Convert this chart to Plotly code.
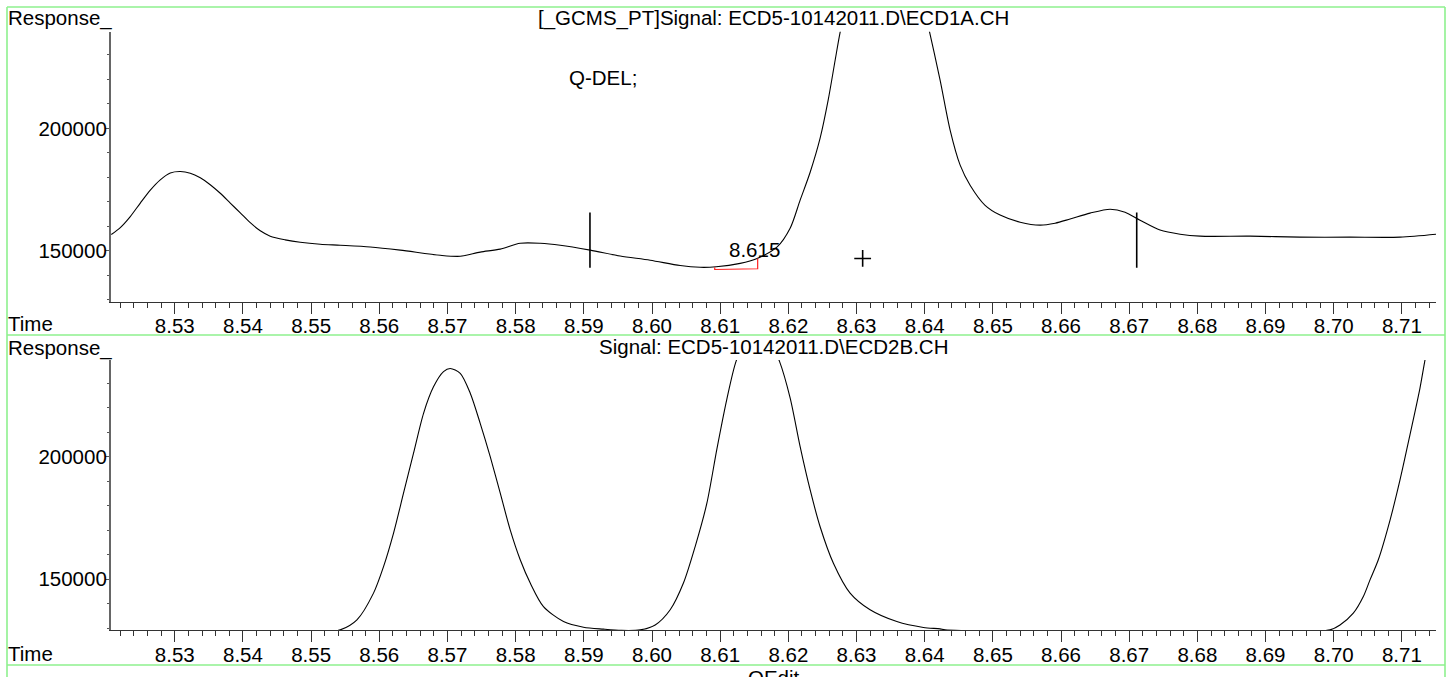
import plotly.graph_objects as go

# ---------------- data ----------------
top_time = [8.52069, 8.52201, 8.52347, 8.52494, 8.52641, 8.52787, 8.52934, 8.53081, 8.53227, 8.53374,
            8.53520, 8.53667, 8.53814, 8.53961, 8.54107, 8.54254, 8.54400, 8.54620, 8.54840, 8.55134,
            8.55427, 8.55867, 8.56307, 8.56894, 8.57187, 8.57480, 8.57774, 8.58067, 8.58360,
            8.58654, 8.59093, 8.59533, 8.59973, 8.60413, 8.60707, 8.60941, 8.61293, 8.61542, 8.61836,
            8.62026, 8.62173, 8.62320, 8.62466, 8.62584, 8.62687, 8.62760, 8.63000, 8.63300, 8.63600,
            8.63850, 8.64050, 8.64226, 8.64373, 8.64520, 8.64666, 8.64886, 8.65106, 8.65400, 8.65693,
            8.65913, 8.66133, 8.66426, 8.66720, 8.66939, 8.67159, 8.67452, 8.67746, 8.68039, 8.68772,
            8.69505, 8.70239, 8.70972, 8.71500]
top_resp = [156700, 159500, 164000, 169500, 174800, 179000, 181800, 182400, 181700, 179800,
            177000, 173500, 169500, 165500, 161500, 158200, 156000, 154500, 153500, 152700,
            152300, 151600, 150300, 148200, 147800, 149500, 150700, 153100, 153100,
            152300, 150300, 147900, 146200, 144000, 143300, 143500, 144900, 146900, 151600,
            159200, 170700, 182100, 196000, 211500, 227900, 239300, 270000, 290000, 285000,
            265000, 242000, 219700, 199300, 185000, 176800, 168600, 164600, 161700, 160500,
            161300, 163000, 165400, 167000, 165800, 162500, 158500, 156800, 156000, 156000,
            155600, 155600, 155600, 156800]

bot_time = [8.52069, 8.54000, 8.55200, 8.55427, 8.55672, 8.55915, 8.56062, 8.56209, 8.56355, 8.56502,
            8.56649, 8.56795, 8.56942, 8.57040, 8.57187, 8.57334, 8.57480, 8.57627, 8.57774, 8.57920,
            8.58067, 8.58214, 8.58408, 8.58702, 8.58995, 8.59288, 8.59550, 8.59826, 8.60047, 8.60267,
            8.60461, 8.60633, 8.60805, 8.60951, 8.61098, 8.61234, 8.61400, 8.61550, 8.61700, 8.61869,
            8.62026, 8.62173, 8.62320, 8.62466, 8.62661, 8.62906, 8.63199, 8.63591, 8.63981, 8.64226,
            8.64299, 8.65500, 8.67500, 8.69000, 8.69945, 8.70092, 8.70287, 8.70434, 8.70532, 8.70654,
            8.70825, 8.70972, 8.71118, 8.71265, 8.71339, 8.71500]
bot_resp = [128000, 128100, 128400, 129300, 133400, 144300, 155100, 168800, 185100, 201400,
            217700, 228500, 234700, 236000, 234000, 225900, 213600, 200000, 185100, 170100,
            157900, 148400, 138800, 132700, 130400, 129600, 129100, 129300, 131300, 137500,
            148400, 163300, 181000, 203000, 223500, 239000, 249000, 252000, 249000, 239000,
            224000, 204100, 186400, 171400, 156500, 144300, 137500, 132700, 130300, 129700,
            129300, 128600, 128300, 128400, 129300, 131300, 136100, 142900, 149700, 157900,
            174000, 190500, 208900, 228000, 239500, 262000]

marker_time = [8.5909, 8.6711]
marker_low = [143100, 143100]
marker_high = [165700, 165700]

peak_label = "8.615"
peak_label_time = 8.6150
peak_label_resp = 150600

bracket_time = [8.6092, 8.6092, 8.6155, 8.6155]
bracket_resp = [143300, 142400, 142700, 146900]

cross_time = [8.6309]
cross_resp = [146900]

x_ticks = [8.53, 8.54, 8.55, 8.56, 8.57, 8.58, 8.59, 8.60, 8.61, 8.62,
           8.63, 8.64, 8.65, 8.66, 8.67, 8.68, 8.69, 8.70, 8.71]
x_ticklabels = ["%.2f" % v for v in x_ticks]
y_ticks = [150000, 200000]
y_ticklabels = ["150000", "200000"]

title_top = "[_GCMS_PT]Signal: ECD5-10142011.D\\ECD1A.CH"
title_bot = "Signal: ECD5-10142011.D\\ECD2B.CH"
compound = "Q-DEL;"

# ---------------- figure ----------------
W, H = 1452, 677
FONT = "Liberation Sans, Arial, sans-serif"
FS = 20.5


def py(px):
    return 1 - px / H


def pxx(px):
    return px / W


x_range = [8.5206, 8.7150]
y_range = [129250, 239450]

fig = go.Figure()

line_style = dict(color="black", width=1.1, shape="spline", smoothing=0.8)
fig.add_trace(go.Scatter(x=top_time, y=top_resp, mode="lines", line=line_style,
                         xaxis="x", yaxis="y", showlegend=False, hoverinfo="skip"))
fig.add_trace(go.Scatter(x=bot_time, y=bot_resp, mode="lines", line=line_style,
                         xaxis="x2", yaxis="y2", showlegend=False, hoverinfo="skip"))

# baseline marker ticks
mx, my = [], []
for t, lo, hi in zip(marker_time, marker_low, marker_high):
    mx += [t, t, None]
    my += [lo, hi, None]
fig.add_trace(go.Scatter(x=mx, y=my, mode="lines", line=dict(color="black", width=1.6),
                         xaxis="x", yaxis="y", showlegend=False, hoverinfo="skip"))
# red integration bracket
fig.add_trace(go.Scatter(x=bracket_time, y=bracket_resp, mode="lines",
                         line=dict(color="#ff2020", width=1.2),
                         xaxis="x", yaxis="y", showlegend=False, hoverinfo="skip"))
# cross
fig.add_trace(go.Scatter(x=cross_time, y=cross_resp, mode="markers",
                         marker=dict(symbol="cross-thin", size=12,
                                     line=dict(color="black", width=1.6)),
                         xaxis="x", yaxis="y", showlegend=False, hoverinfo="skip"))

dom_x = [pxx(110.7), pxx(1436)]
xa = dict(range=x_range, domain=dom_x, showline=True, linecolor="#333", linewidth=1,
          tickmode="array", tickvals=x_ticks, ticktext=x_ticklabels,
          ticks="outside", ticklen=11, tickwidth=1, tickcolor="#333",
          ticklabelstandoff=-5,
          minor=dict(dtick=0.002, tick0=8.53, ticks="outside", ticklen=5,
                     tickwidth=1, tickcolor="#333"),
          showgrid=False, zeroline=False, fixedrange=True,
          tickfont=dict(family=FONT, size=FS, color="black"))
ya = dict(range=y_range, showline=True, linecolor="#666", linewidth=1.6,
          tickmode="array", tickvals=y_ticks, ticktext=y_ticklabels,
          ticks="outside", ticklen=4, tickwidth=1, tickcolor="#555",
          ticklabelstandoff=-6,
          minor=dict(dtick=10000, tick0=0, ticks="outside", ticklen=2,
                     tickwidth=1, tickcolor="#555"),
          showgrid=False, zeroline=False, fixedrange=True,
          tickfont=dict(family=FONT, size=FS, color="black"))

fig.update_layout(
    width=W, height=H,
    margin=dict(l=0, r=0, t=0, b=0),
    paper_bgcolor="white", plot_bgcolor="white",
    font=dict(family=FONT, size=FS, color="black"),
    showlegend=False,
    xaxis=dict(xa, anchor="y"),
    yaxis=dict(ya, anchor="x", domain=[py(301.7), py(31.7)]),
    xaxis2=dict(xa, anchor="y2"),
    yaxis2=dict(ya, anchor="x2", domain=[py(630), py(360)]),
)

# green frame
G = "#8ef08e"
frame = [
    (7, 7, 1445, 7), (7, 335, 1445, 335), (7, 665, 1445, 665),
    (7, 7, 7, 700), (1445, 7, 1445, 700),
]
for x0, y0, x1, y1 in frame:
    fig.add_shape(type="line", xref="paper", yref="paper",
                  x0=pxx(x0), y0=py(y0), x1=pxx(x1), y1=py(y1),
                  line=dict(color=G, width=1.6), layer="below")


def txt(s, x, y, xanchor="left", yanchor="middle", xref="paper", yref="paper"):
    fig.add_annotation(text=s, x=x, y=y, xref=xref, yref=yref, showarrow=False,
                       xanchor=xanchor, yanchor=yanchor,
                       font=dict(family=FONT, size=FS, color="black"))


txt("Response_", pxx(6), py(18))
txt(title_top, pxx(773), py(18), xanchor="center")
txt(compound, pxx(603), py(77.5), xanchor="center")
txt("Time", pxx(6), py(324))
txt("Response_", pxx(6), py(348))
txt(title_bot, pxx(773), py(346.5), xanchor="center")
txt("Time", pxx(6), py(653))
txt("QEdit", pxx(774), py(677), xanchor="center")
txt(peak_label, peak_label_time, peak_label_resp, xanchor="center", xref="x", yref="y")

fig.write_html("out.html",
               config={"displayModeBar": False},
               post_script="document.body.style.margin='0px';document.body.style.padding='0px';")
